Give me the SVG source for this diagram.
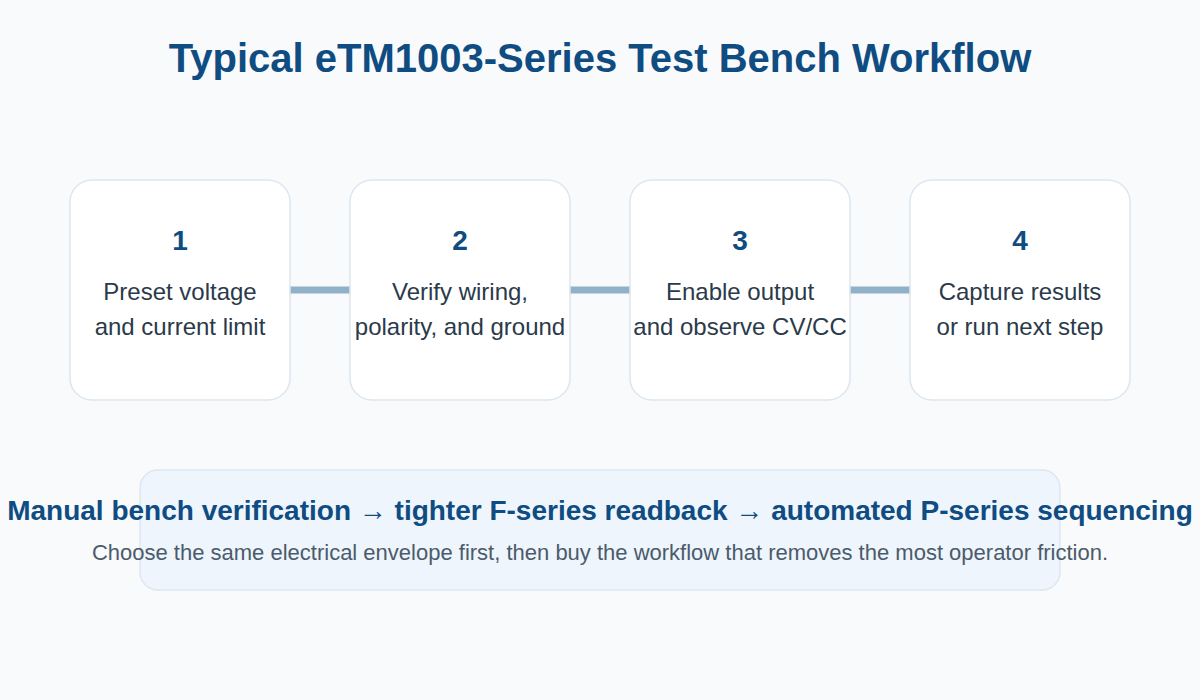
<svg xmlns="http://www.w3.org/2000/svg" width="1200" height="700" viewBox="0 0 1200 700">
<style>
.title{font-family:"Liberation Sans",Arial,sans-serif;font-weight:bold;font-size:40px;fill:#0f4c81;text-anchor:middle}
.card{fill:#ffffff;stroke:#dde7f0;stroke-width:1.5}
.num{font-family:"Liberation Sans",Arial,sans-serif;font-weight:bold;font-size:28px;fill:#0f4c81;text-anchor:middle}
.body{font-family:"Liberation Sans",Arial,sans-serif;font-size:24px;fill:#2b3a4a;text-anchor:middle}
.conn{stroke:#8fb2c9;stroke-width:7}
.banner{fill:#eef5fc;stroke:#dbe7f1;stroke-width:1.5}
.bh{font-family:"Liberation Sans",Arial,sans-serif;font-weight:bold;font-size:28px;fill:#0f4c81;text-anchor:middle}
.bs{font-family:"Liberation Sans",Arial,sans-serif;font-size:22px;fill:#4b5b6b;text-anchor:middle}
</style>
<rect width="1200" height="700" fill="#f8fafc"/>
<text class="title" x="600" y="72">Typical eTM1003-Series Test Bench Workflow</text>
<g id="connectors">
<line class="conn" x1="290" y1="290" x2="350" y2="290"/>
<line class="conn" x1="570" y1="290" x2="630" y2="290"/>
<line class="conn" x1="850" y1="290" x2="910" y2="290"/>
</g>
<g id="step1">
<rect class="card" x="70" y="180" width="220" height="220" rx="22"/>
<text class="num" x="180" y="250">1</text>
<text class="body" x="180" y="300">Preset voltage</text>
<text class="body" x="180" y="335">and current limit</text>
</g>
<g id="step2">
<rect class="card" x="350" y="180" width="220" height="220" rx="22"/>
<text class="num" x="460" y="250">2</text>
<text class="body" x="460" y="300">Verify wiring,</text>
<text class="body" x="460" y="335">polarity, and ground</text>
</g>
<g id="step3">
<rect class="card" x="630" y="180" width="220" height="220" rx="22"/>
<text class="num" x="740" y="250">3</text>
<text class="body" x="740" y="300">Enable output</text>
<text class="body" x="740" y="335">and observe CV/CC</text>
</g>
<g id="step4">
<rect class="card" x="910" y="180" width="220" height="220" rx="22"/>
<text class="num" x="1020" y="250">4</text>
<text class="body" x="1020" y="300">Capture results</text>
<text class="body" x="1020" y="335">or run next step</text>
</g>
<g id="summary">
<rect class="banner" x="140" y="470" width="920" height="120" rx="18"/>
<text class="bh" x="600" y="520">Manual bench verification → tighter F-series readback → automated P-series sequencing</text>
<text class="bs" x="600" y="560">Choose the same electrical envelope first, then buy the workflow that removes the most operator friction.</text>
</g>
</svg>
